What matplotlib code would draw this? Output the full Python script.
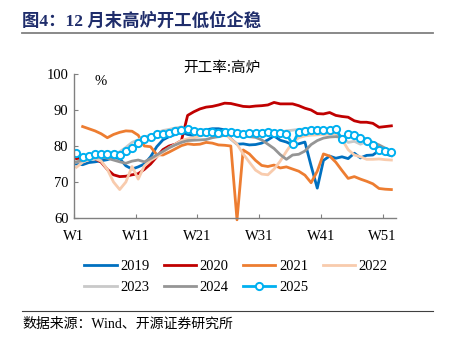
import numpy as np
import matplotlib
matplotlib.use("Agg")
import matplotlib.pyplot as plt

plt.rcParams['font.family'] = ['Liberation Serif', 'Noto Sans CJK SC', 'DejaVu Sans']

weeks = list(range(1, 53))

y2019 = [75.0, 74.8, 75.4, 75.6, 75.9, 76.2, 76.8, 76.5, 74.5, 73.6, 74.2, 75.0, 77.0, 79.8,
         81.7, 82.6, 83.2, 83.8, 83.2, 82.9, 84.3, 84.5, 84.8, 84.8, 84.5, 82.0, 80.5, 80.6,
         80.3, 80.4, 80.8, 81.7, 82.8, 81.6, 81.1, 80.3, 80.6, 81.1, 74.5, 68.3, 76.0, 77.2,
         76.6, 77.0, 76.5, 78.0, 76.7, 77.4, 77.5, 78.7, 77.8, 77.3]
y2020 = [76.5, 76.8, 77.0, 76.5, 75.5, 73.5, 72.0, 71.5, 71.6, 72.0, 72.3, 73.5, 75.0, 77.0,
         79.0, 80.0, 80.5, 81.5, 88.5, 89.5, 90.3, 90.8, 91.0, 91.4, 91.9, 91.8, 91.4, 91.0,
         90.9, 91.1, 91.2, 91.4, 92.1, 91.7, 91.7, 91.7, 91.2, 90.5, 90.0, 89.0, 88.9, 89.3,
         88.5, 88.2, 88.0, 87.0, 86.6, 86.6, 86.3, 85.2, 85.4, 85.6]
y2021 = [np.nan, 85.4, 84.8, 84.2, 83.4, 82.3, 83.2, 83.8, 84.2, 84.1, 83.0, 80.0, 79.8, 77.6,
         77.5, 78.3, 79.2, 80.1, 80.6, 80.4, 80.5, 81.0, 80.8, 80.3, 80.2, 80.0, 59.5, 78.9,
         77.8, 76.0, 74.6, 74.3, 74.7, 73.9, 74.2, 73.6, 73.0, 71.9, 69.8, 73.0, 77.8, 77.2,
         75.5, 73.2, 71.0, 71.5, 70.8, 70.2, 69.5, 68.2, 68.0, 67.9]
y2022 = [74.1, 75.5, 76.2, 76.5, 75.8, 73.5, 70.0, 67.9, 70.0, 74.3, 70.8, 74.5, 76.0, 77.0,
         78.3, 79.5, 80.5, 81.5, 82.0, 82.3, 82.8, 83.0, 83.3, 83.3, 83.3, 82.0, 80.5, 77.8,
         75.5, 73.3, 72.2, 72.0, 73.6, 75.8, 78.5, 81.0, 82.3, 82.8, 83.0, 83.1, 83.2, 83.3,
         83.4, 81.8, 79.0, 77.5, 77.0, 76.3, 76.3, 76.4, 76.2, 76.1]
y2023 = [75.5, 75.8, 76.2, 76.5, 76.8, 77.0, 77.5, 78.4, 79.6, 81.0, 81.7, 82.5, 83.0, 83.6,
         84.3, 84.6, 85.0, 85.3, 84.0, 83.5, 83.8, 84.0, 84.0, 84.0, 84.2, 84.3, 84.0, 83.8,
         83.5, 83.6, 83.7, 83.8, 83.7, 83.8, 84.2, 84.4, 84.6, 84.7, 84.7, 84.8, 84.7, 84.2,
         83.9, 82.5, 81.0, 81.3, 80.5, 81.3, 80.3, 79.5, 78.9, 78.4]
y2024 = [75.6, 76.0, 76.5, 76.8, 77.0, 76.6, 76.1, 75.6, 75.2, 75.8, 76.1, 75.6, 76.5, 77.5,
         78.5, 79.5, 80.3, 81.0, 81.5, 81.6, 81.7, 81.8, 82.3, 82.6, 83.0, 83.3, 83.2, 82.8,
         82.6, 82.4, 81.7, 80.5, 79.3, 77.6, 76.3, 77.5, 77.7, 78.6, 80.4, 81.5, 82.2, 82.5,
         82.6, 82.4, 82.6, 82.8, 82.4, 81.9, 81.0, 80.3, 79.4, 78.4]
y2025 = [78.1, 77.0, 77.1, 77.8, 77.8, 77.8, 77.8, 77.5, 78.5, 79.4, 80.9, 82.0, 82.4, 83.2,
         83.4, 83.7, 84.3, 84.4, 84.7, 84.2, 83.8, 83.9, 83.8, 83.7, 83.8, 83.9, 83.7, 83.3,
         83.6, 83.6, 83.6, 83.9, 83.6, 83.5, 83.3, 80.5, 84.0, 84.2, 84.5, 84.4, 84.4, 84.4,
         84.7, 81.9, 83.3, 83.1, 82.2, 81.4, 80.2, 78.9, 78.7, 78.4]

tick_pos = [0.6, 10.6, 20.6, 30.6, 40.6, 50.6]
tick_lab = ['W1', 'W11', 'W21', 'W31', 'W41', 'W51']

W, H = 451, 349
fig = plt.figure(figsize=(W / 100, H / 100), dpi=100)
ax = fig.add_axes([74 / W, (H - 218) / H, (396 - 74) / W, (218 - 74) / H])

l19, = ax.plot(weeks, y2019, color='#0070C0', lw=2.0, label='2019')
l20, = ax.plot(weeks, y2020, color='#C00000', lw=2.0, label='2020')
l21, = ax.plot(weeks, y2021, color='#ED7D31', lw=2.0, label='2021', clip_on=False)
l22, = ax.plot(weeks, y2022, color='#F8CBAD', lw=2.0, label='2022')
l23, = ax.plot(weeks, y2023, color='#C9C9C9', lw=2.0, label='2023')
l24, = ax.plot(weeks, y2024, color='#959595', lw=2.0, label='2024')
l25, = ax.plot(weeks, y2025, color='#00B0F0', lw=2.0, marker='o', ms=5.2,
               mfc='white', mec='#00B0F0', mew=1.4, label='2025')

ax.set_xlim(0.6, 52.75)
ax.set_ylim(60, 100)
ax.set_yticks([60, 70, 80, 90, 100])
ax.set_xticks(tick_pos)
ax.set_xticklabels(tick_lab)
ax.tick_params(direction='in', length=3, color='#808080', labelsize=10.5, pad=4)
ax.tick_params(axis='x', pad=9)
for s in ['top', 'right']:
    ax.spines[s].set_visible(False)
for s in ['left', 'bottom']:
    ax.spines[s].set_color('#808080')
    ax.spines[s].set_linewidth(1.0)

ax.text(0.065, 0.99, '%', transform=ax.transAxes, fontsize=10.5, va='top')
fig.text(222 / W, 1 - 68 / H, '开工率:高炉', ha='center', va='center', fontsize=10.5,
         family=['Noto Sans CJK SC'])

# column-first fill -> order so rows read 2019..2022 / 2023..2025
handles = [l19, l23, l20, l24, l21, l25, l22]
fig.legend(handles, [h.get_label() for h in handles], loc='center',
           bbox_to_anchor=(236 / W, 1 - 277 / H), ncol=4, frameon=False,
           fontsize=10.5, handlelength=2.2, handletextpad=0.25, columnspacing=1.0,
           labelspacing=0.5)

fig.text(22 / W, 1 - 21 / H, '图4：12 月末高炉开工低位企稳', fontsize=12.5, fontweight='bold',
         color='#1F2D6B', va='center', family=['Liberation Serif', 'Noto Sans CJK SC'])
fig.add_artist(plt.Line2D([22 / W, 433 / W], [1 - 33 / H, 1 - 33 / H], color='#808080', lw=1.3))
fig.add_artist(plt.Line2D([22 / W, 433 / W], [1 - 311 / H, 1 - 311 / H], color='#404040', lw=0.8))
fig.text(22 / W, 1 - 324 / H, '数据来源：Wind、开源证券研究所', fontsize=10, va='center',
         family=['Liberation Serif', 'Noto Sans CJK SC'])

fig.savefig('out.png', dpi=100)
